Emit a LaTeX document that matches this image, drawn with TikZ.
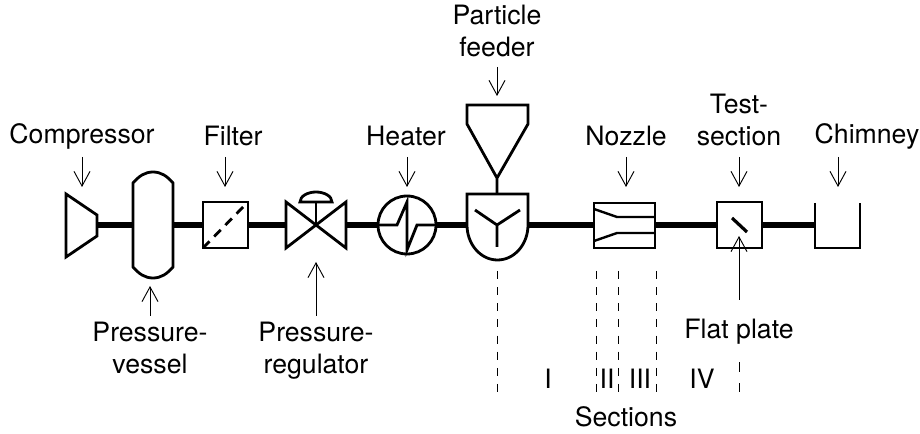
\documentclass[tikz,border=0pt]{standalone}
\usepackage{fontspec}
\setmainfont{TeX Gyre Heros}
\usetikzlibrary{arrows.meta}

\begin{document}
\begin{tikzpicture}[x=0.75pt,y=-0.75pt,line join=miter,
      part/.style={line width=2.1pt},
      pipe/.style={line width=3.9pt},
      thin part/.style={line width=1.8pt},
      pointer/.style={-{Straight Barb[length=11pt,width=12pt,line width=0.7pt]},line width=0.7pt},
      section line/.style={line width=0.6pt,dash pattern=on 6pt off 6.1pt},
      main label/.style={font=\fontsize{20}{24}\selectfont,align=center,inner sep=0pt,anchor=base}]
      \useasboundingbox (0,0) rectangle (920,434);

      % coordinates on the main pipe
      \coordinate (compressor out) at (97,225);
      \coordinate (vessel in) at (133,225);
      \coordinate (vessel out) at (173,225);
      \coordinate (filter in) at (203,225);
      \coordinate (filter out) at (248,225);
      \coordinate (valve in) at (286,225);
      \coordinate (valve out) at (346,225);
      \coordinate (heater in) at (378,225);
      \coordinate (heater out) at (436,225);
      \coordinate (mixer in) at (467,225);
      \coordinate (mixer out) at (528,225);
      \coordinate (nozzle in) at (594,225);
      \coordinate (nozzle out) at (655,225);
      \coordinate (test in) at (717,225);
      \coordinate (test out) at (762,225);
      \coordinate (chimney in) at (815,225);

      \path[pipe]
        (compressor out) edge (vessel in)
        (vessel out) edge (filter in)
        (filter out) edge (valve in)
        (valve out) edge (heater in)
        (heater out) edge (mixer in)
        (mixer out) edge (nozzle in)
        (nozzle out) edge (test in)
        (test out) edge (chimney in);

      % components
      \draw[part] (66,194) -- (97,215) -- (97,236) -- (66,257) -- cycle;
      \draw[part] (133,183) .. controls (139,176) and (145,172) .. (153,172) .. controls (161,172) and (167,176) .. (173,183)
        -- (173,267) .. controls (167,274) and (161,278) .. (153,278) .. controls (145,278) and (139,274) .. (133,267) -- cycle;
      \draw[part] (203,202) rectangle (248,248);
      \draw[part,dash pattern=on 7pt off 5pt] (203,248) -- (248,202);
      \draw[part] (286,202) -- (346,248) -- (346,202) -- (286,248) -- cycle;
      \coordinate (valve center) at (316,225);
      \coordinate (handle base) at (316,202);
      \draw[part] (valve center) -- (handle base);
      \draw[part] (300,202) .. controls (300,196) and (308,192) .. (316,192) .. controls (324,192) and (332,196) .. (332,202) -- cycle;
      \node[circle,draw,part,minimum size=43.5pt,inner sep=0pt] (heater) at (407,225) {};
      \draw[part] (heater in) -- (397,225) -- (407,202) -- (407,250) -- (417,225) -- (heater out);
      \draw[part] (467,194) -- (528,194) -- (528,225) arc[start angle=0,end angle=180,x radius=30.5,y radius=35] -- cycle;
      \coordinate (mixer center) at (497,225);
      \draw[part] (475,210) -- (mixer center) -- (520,210) (mixer center) -- (497,247);
      \draw[part] (497,194) -- (497,178) -- (467,124) -- (467,105) -- (528,105) -- (528,124) -- (497,178);
      \draw[thin part] (594,203) rectangle (655,248);
      \draw[thin part] (594,209) -- (617,217) -- (655,217) (594,241) -- (617,233) -- (655,233);
      \draw[part] (717,202) rectangle (762,248);
      \draw[line width=2.4pt] (732,218) -- (747,232);
      \draw[part] (815,203) -- (815,248) -- (860,248) -- (860,203);

      % labels
      \node[main label] (compressor) at (82,144) {Compressor};
      \node[main label] (filter) at (233,146) {Filter};
      \node[main label] (heater label) at (406,146) {Heater};
      \node[main label] (feeder) at (497,57) {Particle\\feeder};
      \node[main label] (nozzle) at (626,146) {Nozzle};
      \node[main label] (test section) at (739,146) {Test-\\section};
      \node[main label] (chimney) at (867,144) {Chimney};
      \node[main label] (vessel) at (150,373) {Pressure-\\vessel};
      \node[main label] (regulator) at (316,373) {Pressure-\\regulator};
      \node[main label] (plate) at (739,339) {Flat plate};
      \node[main label] (sections) at (626,426) {Sections};
      \node[main label] (sec i) at (548,388) {I};
      \node[main label] (sec ii) at (607,388) {II};
      \node[main label] (sec iii) at (640,388) {III};
      \node[main label] (sec iv) at (702,388) {IV};

      % pointers
      \foreach \name/\xa/\ya/\yb in {a/82/157/187,b/225/157/187,c/407/157/187,d/497/67/96,e/626/157/187,f/739/157/187,g/838/157/187,h/150/316/286,i/316/316/262,j/739/300/236}
        {
        \coordinate (\name from) at (\xa,\ya);
        \coordinate (\name to) at (\xa,\yb);
        \draw[pointer] (\name from) -- (\name to);
        }

      % section limits
      \foreach \xa in {497,596,618,656}
        {
        \coordinate (top \xa) at (\xa,271);
        \coordinate (bottom \xa) at (\xa,392);
        \draw[section line] (top \xa) -- (bottom \xa);
        }
      \coordinate (top plate) at (739,362);
      \coordinate (bottom plate) at (739,392);
      \draw[section line,dash pattern=on 7.5pt off 8.6pt] (top plate) -- (bottom plate);
    \end{tikzpicture}
\end{document}
